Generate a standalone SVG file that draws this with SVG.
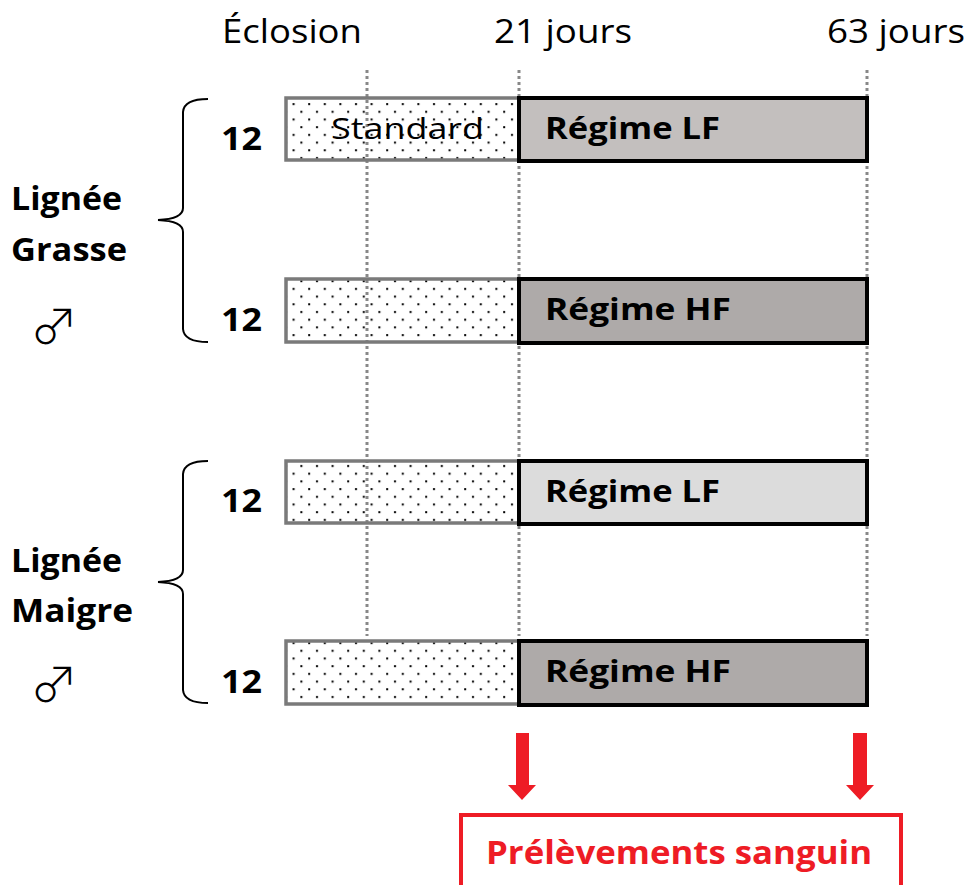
<svg xmlns="http://www.w3.org/2000/svg" width="969" height="885" viewBox="0 0 969 885">
<defs>
<pattern id="dots" x="0" y="0" width="15.6" height="15.4" patternUnits="userSpaceOnUse">
<rect x="4" y="3" width="2" height="2" fill="#000"/>
<rect x="11.8" y="10.7" width="2" height="2" fill="#000"/>
</pattern>
<style>
.t{font-family:"Open Sans","Liberation Sans",sans-serif;fill:#000}
.b{font-weight:bold}
.sym{font-family:"Noto Sans CJK JP","DejaVu Sans",sans-serif;fill:#000;font-size:48px;font-weight:300}
.std{fill:url(#dots);stroke:#7a7a7a;stroke-width:3.5}
.reg{stroke:#000;stroke-width:4}
.guide{stroke:#888;stroke-width:3;stroke-dasharray:3,3;fill:none}
.brace{fill:none;stroke:#000;stroke-width:2}
.red{fill:#ee1c25}
</style>
</defs>
<rect width="969" height="885" fill="#fff"/>
<g id="guides">
<line class="guide" x1="367" y1="70" x2="367" y2="636"/>
<line class="guide" x1="519" y1="70" x2="519" y2="636"/>
<line class="guide" x1="867" y1="70" x2="867" y2="636"/>
</g>
<g id="timeline-labels">
<text class="t" x="222" y="43" font-size="33" textLength="140" lengthAdjust="spacingAndGlyphs">Éclosion</text>
<text class="t" x="494" y="43" font-size="33" textLength="138" lengthAdjust="spacingAndGlyphs">21 jours</text>
<text class="t" x="827" y="43" font-size="33" textLength="138" lengthAdjust="spacingAndGlyphs">63 jours</text>
</g>
<g id="row1">
<rect class="std" x="286" y="98" width="233" height="62"/>
<text class="t" x="331" y="139" font-size="30" textLength="153" lengthAdjust="spacingAndGlyphs">Standard</text>
<rect class="reg" x="519" y="98" width="348" height="63" fill="#c3bfbe"/>
<text class="t b" x="545" y="139" font-size="31" textLength="175" lengthAdjust="spacingAndGlyphs">Régime LF</text>
<text class="t b" x="221" y="150" font-size="32" textLength="41" lengthAdjust="spacingAndGlyphs">12</text>
</g>
<g id="row2">
<rect class="std" x="286" y="279" width="233" height="63"/>
<rect class="reg" x="519" y="279" width="348" height="64" fill="#aeaaa9"/>
<text class="t b" x="545" y="320" font-size="31" textLength="186" lengthAdjust="spacingAndGlyphs">Régime HF</text>
<text class="t b" x="221" y="331" font-size="32" textLength="41" lengthAdjust="spacingAndGlyphs">12</text>
</g>
<g id="row3">
<rect class="std" x="286" y="461" width="233" height="62"/>
<rect class="reg" x="519" y="461" width="348" height="63" fill="#dcdcdc"/>
<text class="t b" x="545" y="502" font-size="31" textLength="175" lengthAdjust="spacingAndGlyphs">Régime LF</text>
<text class="t b" x="221" y="512" font-size="32" textLength="41" lengthAdjust="spacingAndGlyphs">12</text>
</g>
<g id="row4">
<rect class="std" x="286" y="641" width="233" height="63"/>
<rect class="reg" x="519" y="641" width="348" height="64" fill="#aeaaa9"/>
<text class="t b" x="545" y="682" font-size="31" textLength="186" lengthAdjust="spacingAndGlyphs">Régime HF</text>
<text class="t b" x="221" y="693" font-size="32" textLength="41" lengthAdjust="spacingAndGlyphs">12</text>
</g>
<g id="group-grasse">
<path class="brace" d="M208,99 Q184,99 183,112 L183,208 Q183,219 158,220 Q183,221 183,232 L183,329 Q184,342 208,342"/>
<text class="t b" x="11" y="210" font-size="32" textLength="111" lengthAdjust="spacingAndGlyphs">Lignée</text>
<text class="t b" x="11" y="261" font-size="32" textLength="116" lengthAdjust="spacingAndGlyphs">Grasse</text>
<text class="sym" x="30" y="344">♂</text>
</g>
<g id="group-maigre">
<path class="brace" d="M208,461 Q184,461 183,474 L183,570 Q183,581 158,582 Q183,583 183,594 L183,690 Q184,703 208,703"/>
<text class="t b" x="11" y="572" font-size="32" textLength="111" lengthAdjust="spacingAndGlyphs">Lignée</text>
<text class="t b" x="11" y="622" font-size="32" textLength="122" lengthAdjust="spacingAndGlyphs">Maigre</text>
<text class="sym" x="30" y="702">♂</text>
</g>
<g id="connectors">
<path class="red" d="M516,733 L529,733 L529,785 L536,785 L522,800 L508,785 L516,785 Z"/>
<path class="red" d="M853,733 L867,733 L867,785 L874,785 L860,800 L846,785 L853,785 Z"/>
</g>
<g id="sampling">
<rect x="461" y="815" width="440" height="75" fill="none" stroke="#ee1c25" stroke-width="4"/>
<text class="b" x="486" y="864" font-size="33" font-family="Open Sans, Liberation Sans, sans-serif" fill="#ee1c25" textLength="386" lengthAdjust="spacingAndGlyphs">Prélèvements sanguin</text>
</g>
</svg>
